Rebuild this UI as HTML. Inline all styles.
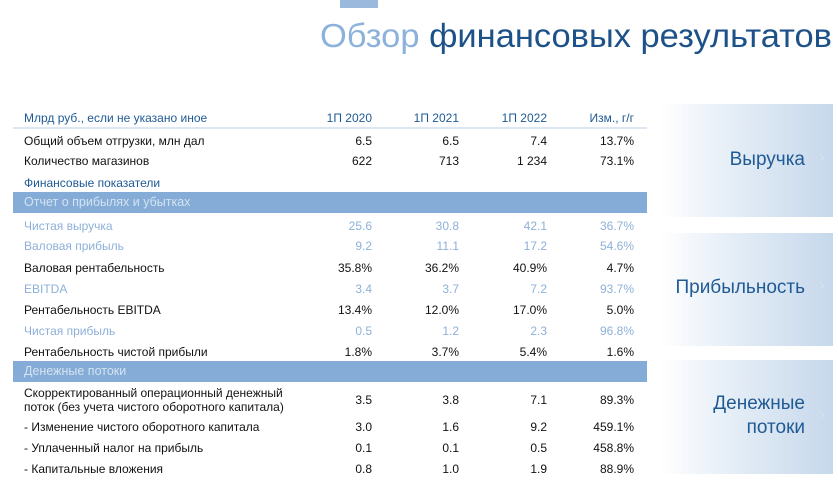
<!DOCTYPE html>
<html><head><meta charset="utf-8"><style>
body{margin:0;width:838px;height:485px;position:relative;background:#fff;font-family:"Liberation Sans",Arial,sans-serif;overflow:hidden}
.r{position:absolute;left:0;width:660px;height:20px;font-size:12px;line-height:20px;color:#111}
.r span{position:absolute;white-space:nowrap}
.l{left:24px}
.c1{right:288px}.c2{right:201px}.c3{right:113px}.c4{right:26px}
.lt{color:#8eb0d8}
.bar{position:absolute;left:13px;width:634px;height:21px;background:#84acd6;color:#d4e3f2;font-size:12.5px;line-height:21px}
.bar span{position:absolute;left:11px}
.panel{position:absolute;left:660px;width:173px;background:linear-gradient(to right,#fff 0%,#e6eef7 40%,#c6d8eb 100%);color:#1f5a94;font-size:19px;text-align:right}
.panel .t{position:absolute;right:28px;line-height:24px}
.panel .ch{position:absolute;right:8px;color:#d3e0ee;font-size:20px}
</style></head><body>
<div style="position:absolute;left:340px;top:0;width:38px;height:8px;background:#9ab9dd"></div>
<svg style="position:absolute;left:0;top:0" width="838" height="70"><text x="320" y="47" font-family="Liberation Sans, sans-serif" font-size="33" textLength="512" lengthAdjust="spacingAndGlyphs"><tspan fill="#8cb2dc">Обзор</tspan><tspan fill="#1d5288"> финансовых результатов</tspan></text></svg>

<div class="r" style="top:108px;color:#1f5a94"><span class="l">Млрд руб., если не указано иное</span><span class="c1">1П 2020</span><span class="c2">1П 2021</span><span class="c3">1П 2022</span><span class="c4">Изм., г/г</span></div>
<div style="position:absolute;left:13px;top:127px;width:634px;height:2px;background:#dce7f3"></div>

<div class="r" style="top:131px"><span class="l">Общий объем отгрузки, млн дал</span><span class="c1">6.5</span><span class="c2">6.5</span><span class="c3">7.4</span><span class="c4">13.7%</span></div>
<div class="r" style="top:151px"><span class="l">Количество магазинов</span><span class="c1">622</span><span class="c2">713</span><span class="c3">1 234</span><span class="c4">73.1%</span></div>
<div class="r" style="top:173px;color:#1f5a94"><span class="l">Финансовые показатели</span></div>
<div class="bar" style="top:192px"><span>Отчет о прибылях и убытках</span></div>
<div class="r lt" style="top:216px"><span class="l">Чистая выручка</span><span class="c1">25.6</span><span class="c2">30.8</span><span class="c3">42.1</span><span class="c4">36.7%</span></div>
<div class="r lt" style="top:236px"><span class="l">Валовая прибыль</span><span class="c1">9.2</span><span class="c2">11.1</span><span class="c3">17.2</span><span class="c4">54.6%</span></div>
<div class="r" style="top:258px"><span class="l">Валовая рентабельность</span><span class="c1">35.8%</span><span class="c2">36.2%</span><span class="c3">40.9%</span><span class="c4">4.7%</span></div>
<div class="r lt" style="top:279px"><span class="l">EBITDA</span><span class="c1">3.4</span><span class="c2">3.7</span><span class="c3">7.2</span><span class="c4">93.7%</span></div>
<div class="r" style="top:300px"><span class="l">Рентабельность EBITDA</span><span class="c1">13.4%</span><span class="c2">12.0%</span><span class="c3">17.0%</span><span class="c4">5.0%</span></div>
<div class="r lt" style="top:321px"><span class="l">Чистая прибыль</span><span class="c1">0.5</span><span class="c2">1.2</span><span class="c3">2.3</span><span class="c4">96.8%</span></div>
<div class="r" style="top:342px"><span class="l">Рентабельность чистой прибыли</span><span class="c1">1.8%</span><span class="c2">3.7%</span><span class="c3">5.4%</span><span class="c4">1.6%</span></div>
<div class="bar" style="top:361px"><span>Денежные потоки</span></div>
<div class="r" style="top:384px;height:32px"><span class="l" style="line-height:14px;top:2px">Скорректированный операционный денежный<br>поток (без учета чистого оборотного капитала)</span><span class="c1" style="top:6px">3.5</span><span class="c2" style="top:6px">3.8</span><span class="c3" style="top:6px">7.1</span><span class="c4" style="top:6px">89.3%</span></div>
<div class="r" style="top:417px"><span class="l">- Изменение чистого оборотного капитала</span><span class="c1">3.0</span><span class="c2">1.6</span><span class="c3">9.2</span><span class="c4">459.1%</span></div>
<div class="r" style="top:438px"><span class="l">- Уплаченный налог на прибыль</span><span class="c1">0.1</span><span class="c2">0.1</span><span class="c3">0.5</span><span class="c4">458.8%</span></div>
<div class="r" style="top:459px"><span class="l">- Капитальные вложения</span><span class="c1">0.8</span><span class="c2">1.0</span><span class="c3">1.9</span><span class="c4">88.9%</span></div>

<div class="panel" style="top:104px;height:113px"><span class="t" style="top:44px">Выручка</span><span class="ch" style="top:42px">›</span></div>
<div class="panel" style="top:233px;height:113px"><span class="t" style="top:43px">Прибыльность</span><span class="ch" style="top:41px">›</span></div>
<div class="panel" style="top:360px;height:114px"><span class="t" style="top:32px">Денежные<br>потоки</span><span class="ch" style="top:43px">›</span></div>
</body></html>
